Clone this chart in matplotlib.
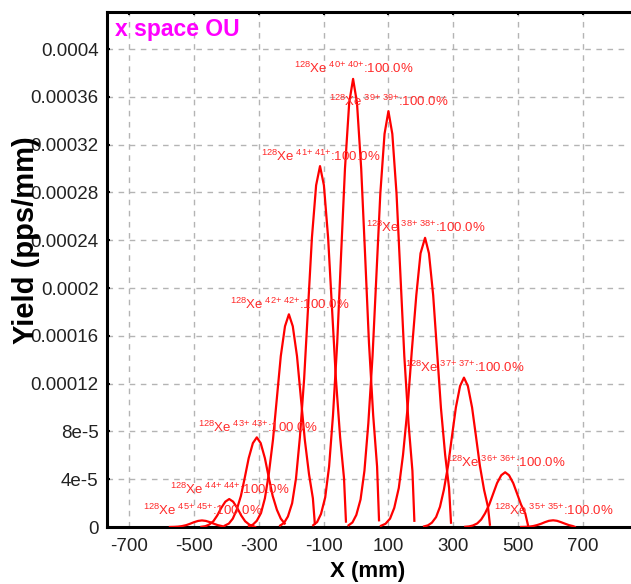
import matplotlib
matplotlib.use("Agg")
import matplotlib.pyplot as plt
from matplotlib.ticker import FixedLocator

plt.rcParams['font.family'] = ['Liberation Sans', 'DejaVu Sans']
plt.rcParams['mathtext.fontset'] = 'custom'
plt.rcParams['mathtext.rm'] = 'Liberation Sans'
plt.rcParams['mathtext.it'] = 'Liberation Sans'
plt.rcParams['mathtext.bf'] = 'Liberation Sans:bold'

# ---- data (x in mm, yield in pps/mm, y values in units of 1e-5) ----
charge_states = [45, 44, 43, 42, 41, 40, 39, 38, 37, 36, 35]
percent = ["100.0%"] * 11

x45 = [-574, -561, -549, -537, -524, -512, -500, -487, -475, -463, -450, -438, -426, -413, -407]
y45 = [0.003, 0.011, 0.031, 0.074, 0.153, 0.268, 0.40, 0.508, 0.55, 0.508, 0.40, 0.268, 0.153, 0.074, 0.011]
x44 = [-477, -465, -453, -440, -428, -416, -403, -391, -379, -366, -354, -342, -329, -317, -311]
y44 = [0.018, 0.067, 0.198, 0.482, 0.962, 1.58, 2.12, 2.34, 2.12, 1.58, 0.962, 0.482, 0.198, 0.067, 0.0]
x43 = [-405, -392, -380, -368, -355, -343, -331, -318, -306, -294, -281, -269, -257, -244, -232, -220]
y43 = [0.11, 0.29, 0.70, 1.44, 2.60, 4.14, 5.76, 7.02, 7.5, 7.02, 5.76, 4.14, 2.60, 1.44, 0.70, 0.29]
x42 = [-330, -318, -306, -293, -281, -269, -256, -244, -232, -219, -207, -195, -182, -170, -158, -145, -133, -127]
y42 = [0.07, 0.20, 0.52, 1.17, 2.40, 4.43, 7.32, 10.8, 14.3, 16.8, 17.8, 16.8, 14.3, 10.8, 7.32, 4.43, 2.40, 0.27]
x41 = [-234, -222, -210, -197, -185, -173, -160, -148, -136, -123, -111, -99, -86, -74, -62, -49, -37, -31]
y41 = [0.12, 0.34, 0.88, 1.99, 4.08, 7.52, 12.4, 18.3, 24.2, 28.6, 30.2, 28.6, 24.2, 18.3, 12.4, 7.52, 4.08, 0.45]
x40 = [-132, -120, -108, -95, -83, -71, -58, -46, -34, -21, -9, 3, 16, 28, 40, 53, 65, 71]
y40 = [0.15, 0.41, 1.09, 2.48, 5.06, 9.34, 15.4, 22.8, 30.0, 35.5, 37.5, 35.5, 30.0, 22.8, 15.4, 9.34, 5.06, 0.56]
x39 = [-23, -11, 1, 14, 26, 38, 51, 63, 75, 88, 100, 112, 125, 137, 149, 162, 174, 180]
y39 = [0.14, 0.38, 1.01, 2.30, 4.70, 8.67, 14.3, 21.1, 27.9, 32.9, 34.8, 32.9, 27.9, 21.1, 14.3, 8.67, 4.70, 0.52]
x38 = [77, 91, 105, 118, 132, 145, 159, 172, 186, 199, 213, 225, 238, 250, 262, 275, 287, 293]
y38 = [0.10, 0.27, 0.70, 1.60, 3.27, 6.03, 9.95, 14.7, 19.4, 22.9, 24.2, 22.9, 19.4, 14.7, 9.95, 6.03, 3.27, 0.36]
x37 = [210, 222, 234, 247, 259, 271, 284, 296, 308, 321, 333, 345, 358, 370, 382, 395, 407, 413]
y37 = [0.05, 0.14, 0.36, 0.83, 1.69, 3.11, 5.14, 7.59, 10.0, 11.8, 12.5, 11.8, 10.0, 7.59, 5.14, 3.11, 1.69, 0.19]
x36 = [337, 349, 361, 374, 386, 398, 411, 423, 435, 448, 460, 472, 485, 497, 509, 522, 531]
y36 = [0.02, 0.05, 0.13, 0.30, 0.62, 1.14, 1.88, 2.78, 3.67, 4.33, 4.58, 4.33, 3.67, 2.78, 1.88, 1.14, 0.09]
x35 = [509, 521, 534, 546, 558, 571, 583, 595, 608, 620, 632, 645, 657, 669, 675]
y35 = [0.003, 0.011, 0.031, 0.076, 0.156, 0.273, 0.407, 0.517, 0.56, 0.517, 0.407, 0.273, 0.156, 0.076, 0.011]
y_unit = 1e-5

curves_x = [x45, x44, x43, x42, x41, x40, x39, x38, x37, x36, x35]
curves_y = [y45, y44, y43, y42, y41, y40, y39, y38, y37, y36, y35]

x_ticks = [-700, -500, -300, -100, 100, 300, 500, 700]
y_ticks = [0, 4e-5, 8e-5, 12e-5, 16e-5, 20e-5, 24e-5, 28e-5, 32e-5, 36e-5, 40e-5]
y_ticklabels = ["0", "4e-5", "8e-5", "0.00012", "0.00016", "0.0002", "0.00024",
                "0.00028", "0.00032", "0.00036", "0.0004"]

# ---- figure ----
fig = plt.figure(figsize=(6.31, 5.84), dpi=100)
ax = fig.add_axes([107 / 631, 1 - 527 / 584, (629 - 107) / 631, (527 - 11.5) / 584])

for xs, ys in zip(curves_x, curves_y):
    ax.plot(xs, [v * y_unit for v in ys], color='#ff0000', lw=1.6,
            solid_joinstyle='round', zorder=3)

for q, pct, xs, ys in zip(charge_states, percent, curves_x, curves_y):
    i = max(range(len(ys)), key=lambda k: ys[k])
    label = r"$^{128}$Xe$^{\ %d{+}\ %d{+}}$:%s" % (q, q, pct)
    ax.annotate(label, xy=(xs[i], ys[i] * y_unit), xytext=(-59, 10),
                textcoords='offset pixels', ha='left', va='center',
                fontsize=9.5, color='#ff2a2a', zorder=4)

ax.set_xlim(-768, 842)
ax.set_ylim(0, 4.314e-4)
ax.xaxis.set_major_locator(FixedLocator(x_ticks))
ax.set_xticklabels([str(v) for v in x_ticks])
ax.yaxis.set_major_locator(FixedLocator(y_ticks))
ax.set_yticklabels(y_ticklabels)
ax.tick_params(axis='both', labelsize=13.5, colors='black', length=2, width=1.5, direction='in')
ax.tick_params(axis='x', top=True, bottom=False, labeltop=False, labelbottom=True, pad=8)
ax.tick_params(axis='y', pad=6)
for lab in ax.get_xticklabels() + ax.get_yticklabels():
    lab.set_color('#222222')

ax.grid(True, color='#b4b4b4', linestyle=(0, (4, 4)), linewidth=1.0)
ax.set_axisbelow(True)
for side in ['left', 'top', 'bottom']:
    ax.spines[side].set_linewidth(2.2)
    ax.spines[side].set_color('black')
ax.spines['right'].set_visible(False)

ax.set_xlabel("X (mm)", fontsize=16, fontweight='bold', labelpad=4)
ax.set_ylabel("Yield (pps/mm)", fontsize=21, fontweight='bold')
ax.yaxis.set_label_coords(-0.128, 0.557)

ax.text(8 / 522, 0.965, "x space OU", transform=ax.transAxes, ha='left', va='center',
        fontsize=16.5, fontweight='bold', color='#ff00ff')

fig.savefig("out.png", dpi=100)
